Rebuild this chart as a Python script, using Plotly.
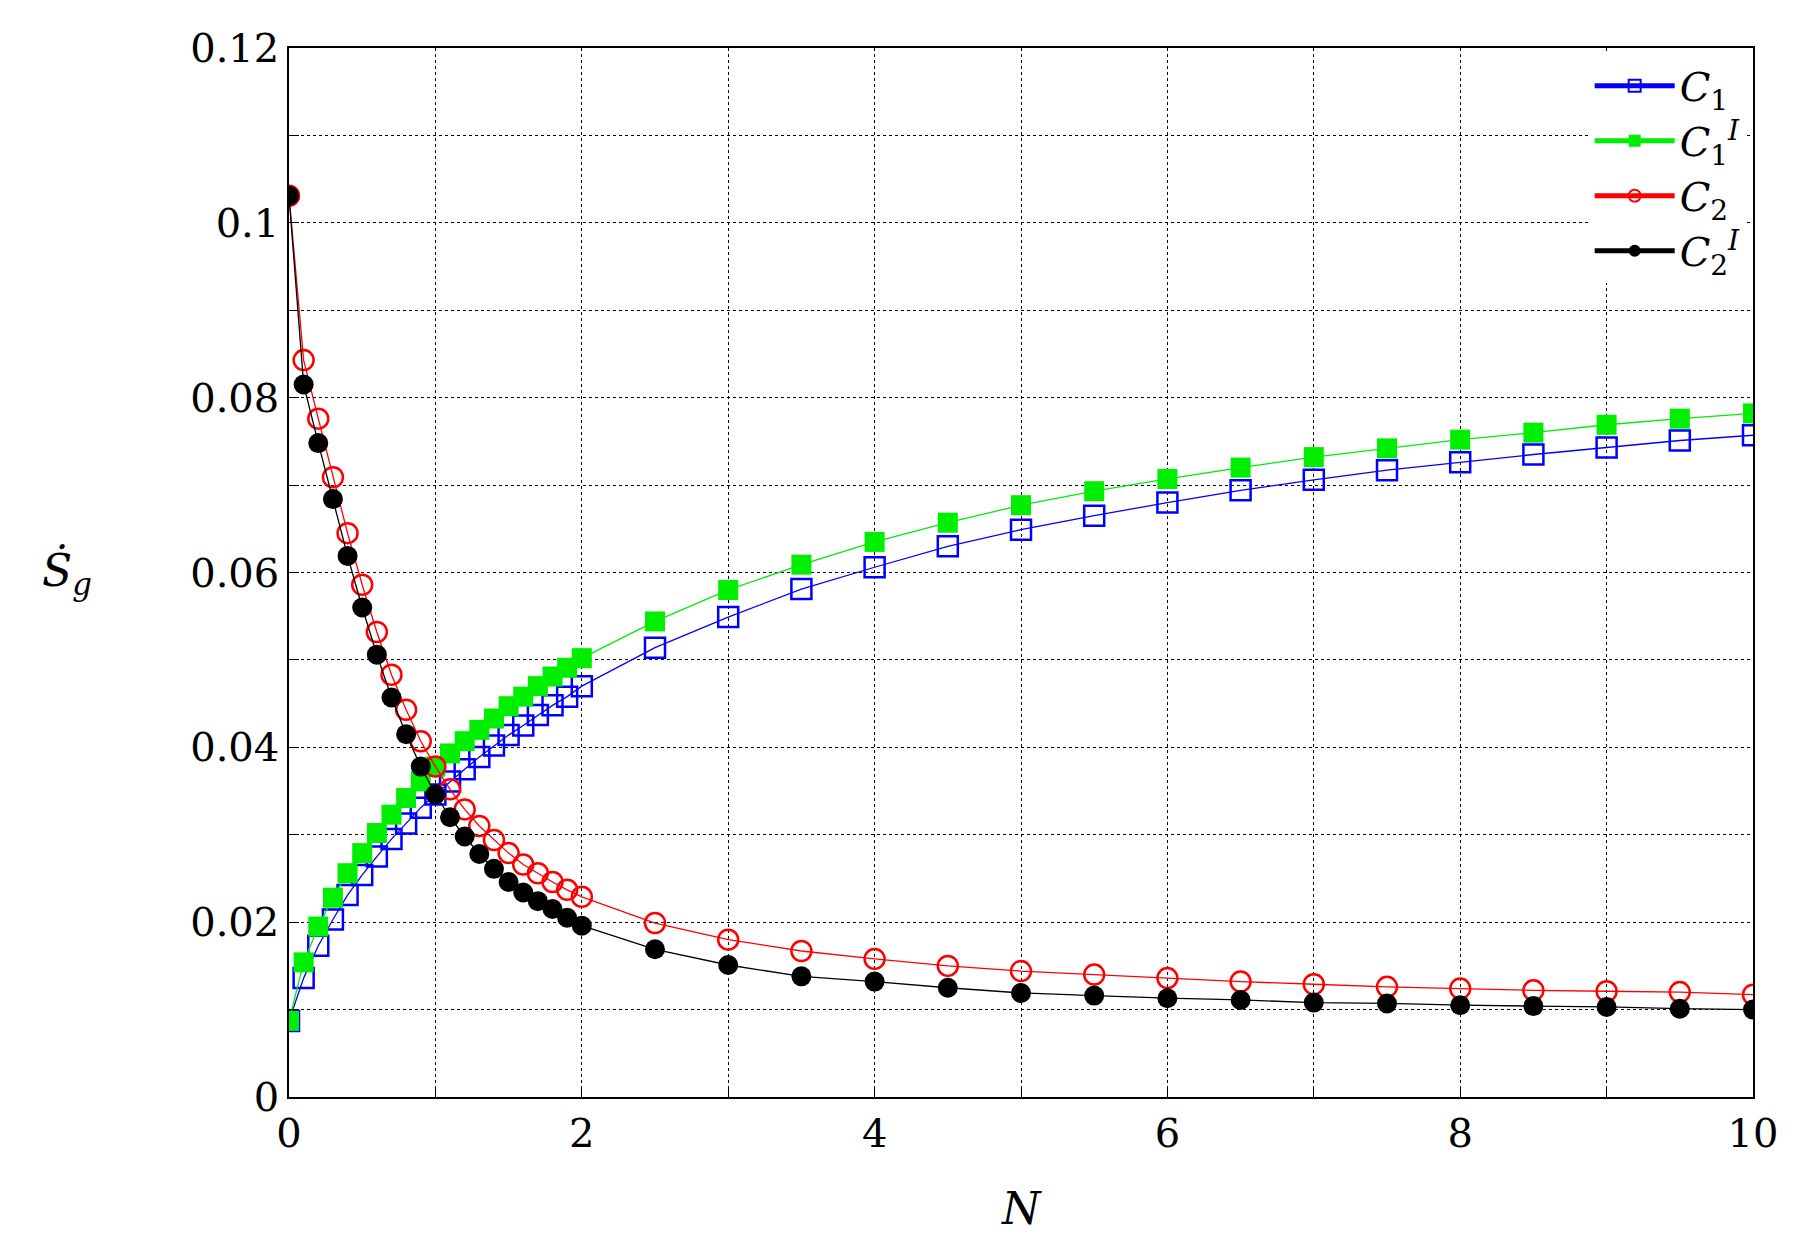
import plotly.graph_objects as go

# N values: 0..2 step 0.1, then 2.5..10 step 0.5
n_vals = [round(0.1 * i, 1) for i in range(21)] + [2.5 + 0.5 * i for i in range(16)]

c1 = [0.0087, 0.0136, 0.0173, 0.0203, 0.0231, 0.0254, 0.0275, 0.0295, 0.0313, 0.0331,
      0.0346, 0.0361, 0.0375, 0.0389, 0.0402, 0.0414, 0.0425, 0.0437, 0.0448, 0.0458,
      0.0470, 0.0514, 0.0549, 0.0581, 0.0606, 0.0630, 0.0649, 0.0665, 0.0680, 0.0694,
      0.0706, 0.0717, 0.0726, 0.0735, 0.0743, 0.0751, 0.0757]
c1_i = [0.0087, 0.0154, 0.0195, 0.0228, 0.0256, 0.0279, 0.0302, 0.0323, 0.0342, 0.0361,
        0.0378, 0.0393, 0.0407, 0.0420, 0.0433, 0.0447, 0.0458, 0.0470, 0.0481, 0.0491,
        0.0502, 0.0544, 0.0580, 0.0609, 0.0635, 0.0657, 0.0677, 0.0693, 0.0707, 0.0720,
        0.0732, 0.0742, 0.0752, 0.0760, 0.0769, 0.0776, 0.0782]
c2 = [0.1031, 0.0843, 0.0776, 0.0709, 0.0645, 0.0586, 0.0532, 0.0483, 0.0443, 0.0407,
      0.0378, 0.0352, 0.0329, 0.0310, 0.0294, 0.0279, 0.0266, 0.0256, 0.0246, 0.0237,
      0.0229, 0.0199, 0.0180, 0.0167, 0.0158, 0.0150, 0.0144, 0.0140, 0.0136, 0.0132,
      0.0129, 0.0126, 0.0124, 0.0122, 0.0121, 0.0120, 0.0117]
c2_i = [0.1031, 0.0815, 0.0748, 0.0684, 0.0619, 0.0560, 0.0506, 0.0457, 0.0415, 0.0378,
        0.0346, 0.0320, 0.0298, 0.0278, 0.0261, 0.0246, 0.0234, 0.0224, 0.0215, 0.0205,
        0.0196, 0.0169, 0.0151, 0.0138, 0.0132, 0.0125, 0.0119, 0.0116, 0.0113, 0.0111,
        0.0108, 0.0107, 0.0105, 0.0104, 0.0103, 0.0101, 0.0100]

y_ticks = [0, 0.02, 0.04, 0.06, 0.08, 0.1, 0.12]
y_labels = ["0", "0.02", "0.04", "0.06", "0.08", "0.1", "0.12"]

FONT = "DejaVu Serif"

series = [
    ("<i>C</i><sub>1</sub>", c1, "#0000ff", "square-open"),
    ("<i>C</i><sub>1</sub><sup><i>I</i></sup>", c1_i, "#00ee00", "square"),
    ("<i>C</i><sub>2</sub>", c2, "#ff0000", "circle-open"),
    ("<i>C</i><sub>2</sub><sup><i>I</i></sup>", c2_i, "#000000", "circle"),
]

fig = go.Figure()
for name, ys, color, symbol in series:
    fig.add_trace(go.Scatter(
        x=n_vals, y=ys, name=name, mode="lines+markers",
        line=dict(color=color, width=1.3),
        marker=dict(symbol=symbol, size=20, color=color,
                    line=dict(color=color, width=2.5 if "open" in symbol else 0)),
    ))

axis_common = dict(
    showgrid=True, gridcolor="black", griddash="dot", gridwidth=1,
    showline=True, linecolor="black", linewidth=1.5, mirror=True,
    ticks="inside", ticklen=10, tickcolor="black",
    zeroline=False, tickfont=dict(family=FONT, size=40, color="black"),
)
minor = dict(showgrid=True, gridcolor="black", griddash="dot", gridwidth=1,
             ticks="inside", ticklen=10, tickcolor="black")
fig.update_xaxes(range=[0, 10], dtick=2, minor=dict(dtick=1, **minor), **axis_common)
fig.update_yaxes(range=[0, 0.12], tickvals=y_ticks, ticktext=y_labels,
                 minor=dict(dtick=0.01, **minor), **axis_common)

fig.add_annotation(text="<i>N</i>", xref="paper", yref="paper", x=0.5, y=-0.08,
                   showarrow=False, yanchor="top",
                   font=dict(family=FONT, size=44, color="black"))
fig.add_annotation(text="<i>Ṡ</i><sub><i>g</i></sub>", xref="paper", yref="paper",
                   x=-0.17, y=0.5, showarrow=False,
                   font=dict(family=FONT, size=44, color="black"))

fig.update_layout(
    width=1795, height=1251,
    paper_bgcolor="white", plot_bgcolor="white",
    margin=dict(l=281, r=50, t=40, b=162),
    showlegend=True,
    legend=dict(x=0.995, y=0.995, xanchor="right", yanchor="top",
                bgcolor="white", font=dict(family=FONT, size=40, color="black"),
                itemwidth=80, itemsizing="constant", tracegroupgap=12),
)

fig.write_html("out.html")
